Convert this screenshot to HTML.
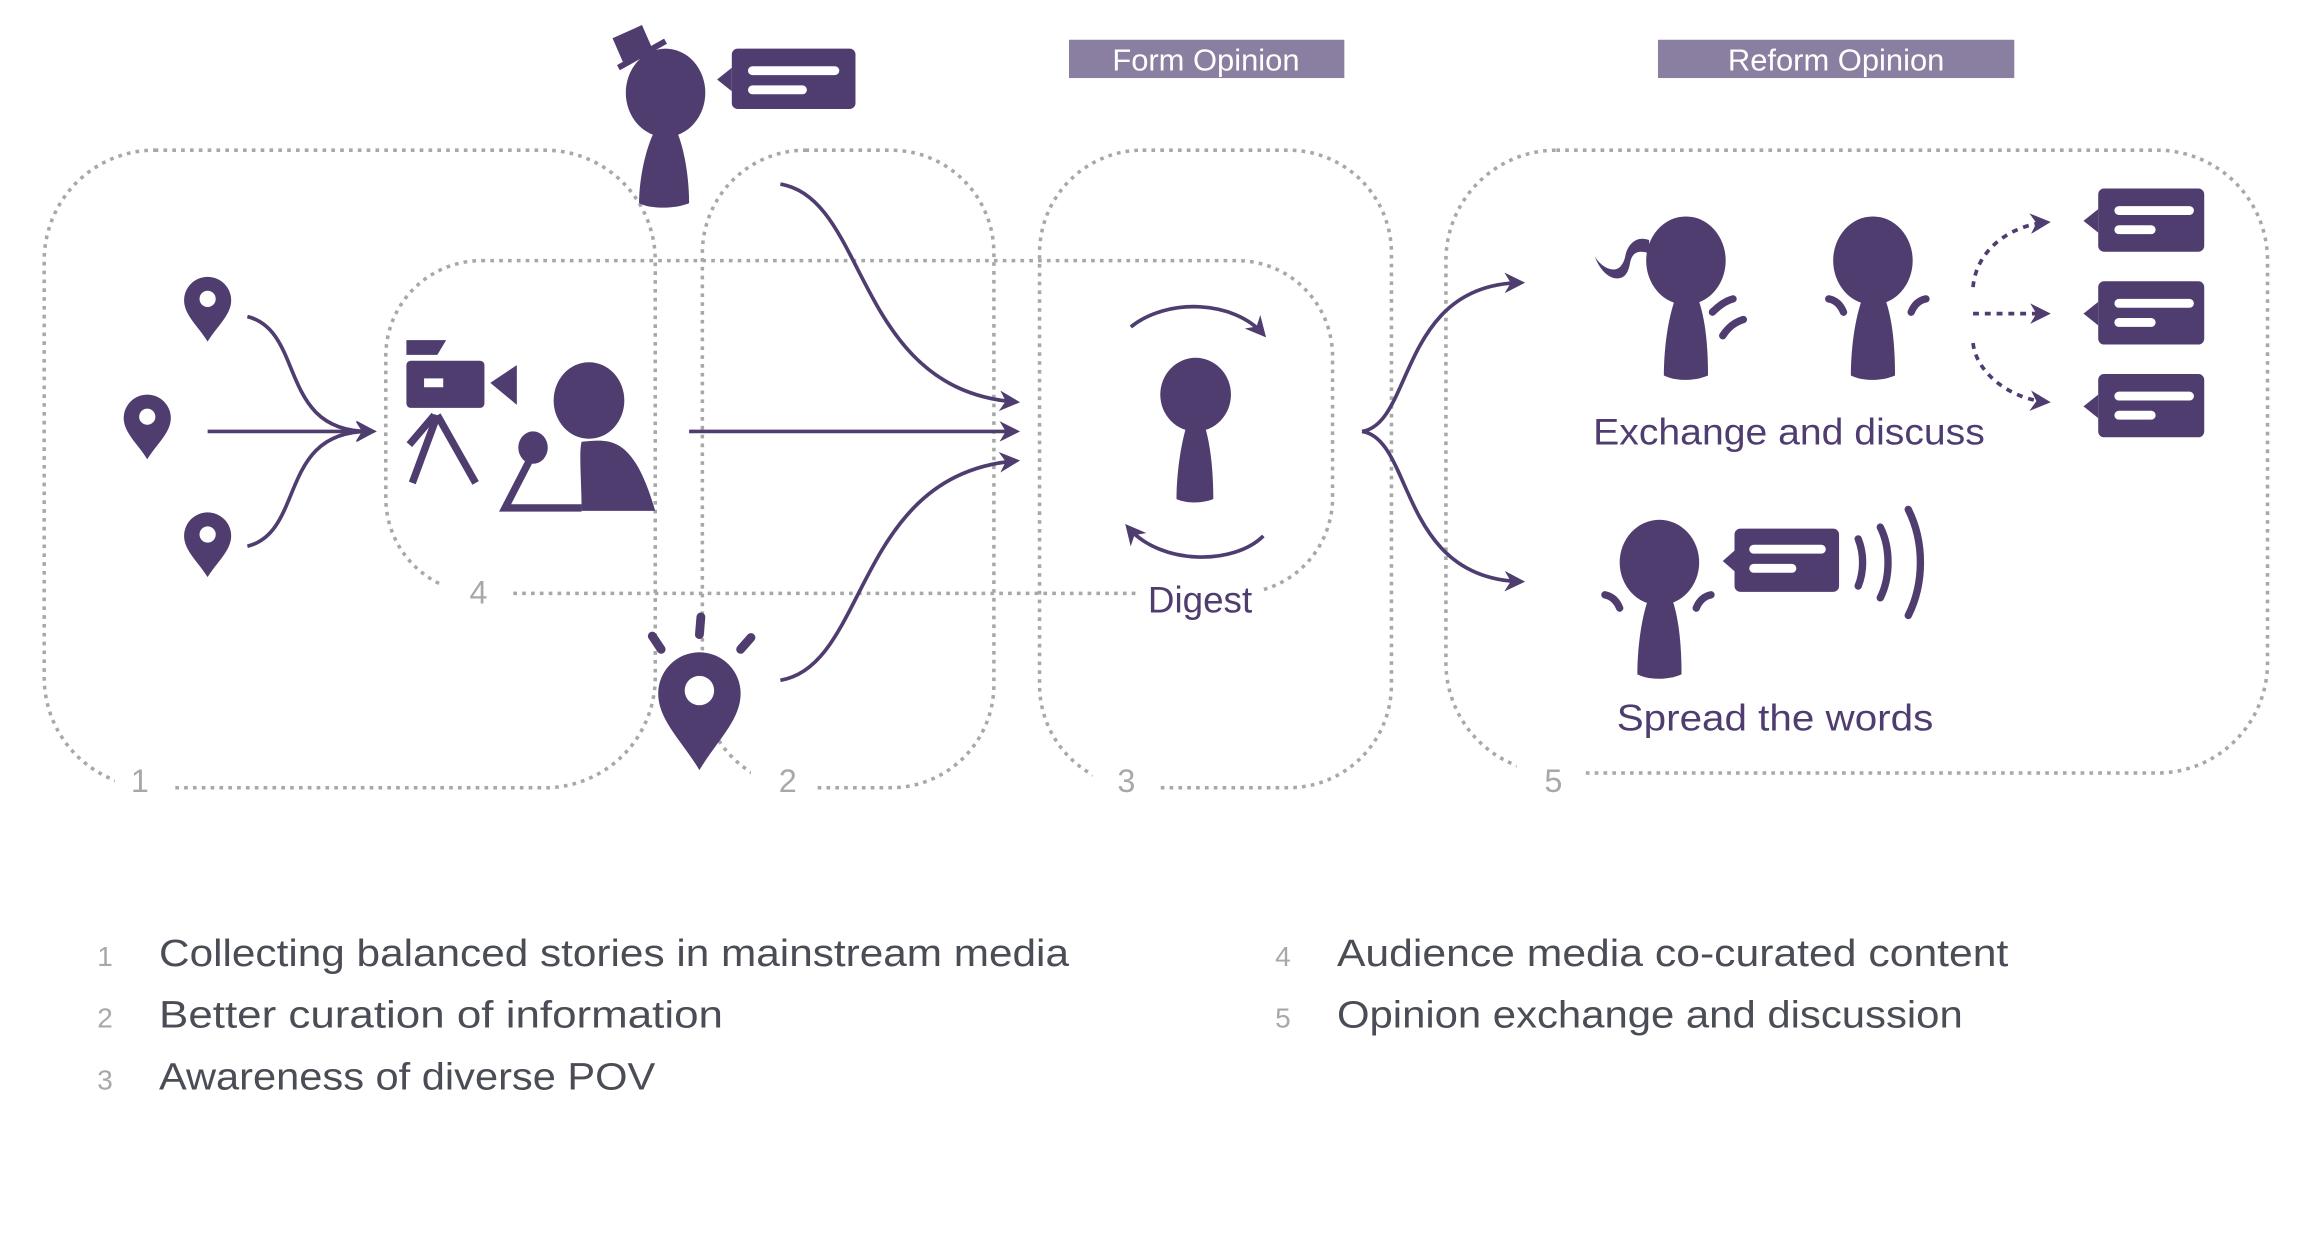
<!DOCTYPE html>
<html><head><meta charset="utf-8"><style>
html,body{margin:0;padding:0;background:#fff;}
svg{display:block;}
</style></head><body>
<svg width="2297" height="1257" viewBox="0 0 1560 853.7" xmlns="http://www.w3.org/2000/svg" font-family="Liberation Sans, sans-serif">
<defs>
<marker id="ah2" viewBox="0 0 10 10" refX="8" refY="5" markerWidth="14" markerHeight="14" orient="auto" markerUnits="userSpaceOnUse"><path d="M0,0 L10,5 L0,10 L3,5z" fill="#4f3d70"/></marker>
</defs>
<g fill="none" stroke="#a8a8a8" stroke-width="2.4" stroke-dasharray="2.5 3.5">
<rect x="30" y="102" width="415" height="433" rx="75"/>
<rect x="477" y="102" width="198" height="433" rx="70"/>
<rect x="706" y="102" width="239" height="433" rx="70"/>
<rect x="262" y="177" width="643" height="226" rx="65"/>
<rect x="982" y="102" width="558" height="423" rx="75"/>
</g>
<g fill="#fff">
<rect x="78" y="515" width="38" height="30"/>
<rect x="510" y="515" width="42" height="30"/>
<rect x="742" y="515" width="44" height="30"/>
<rect x="300" y="388" width="48" height="30"/>
<rect x="1030" y="505" width="46" height="40"/>
<rect x="772" y="395" width="86" height="28"/>
</g>
<g fill="#a8a8a8" font-size="22" text-anchor="middle">
<text x="95" y="538">1</text><text x="535" y="538">2</text><text x="765" y="538">3</text><text x="325" y="410">4</text><text x="1055" y="538">5</text>
</g>
<rect x="726" y="27" width="187" height="26" fill="#8a7fa0"/>
<rect x="1126" y="27" width="242" height="26" fill="#8a7fa0"/>
<g fill="#fff" font-size="21" text-anchor="middle"><text x="819" y="48">Form Opinion</text><text x="1247" y="48">Reform Opinion</text></g>

<g fill="#4f3d70">
<g id="pin"><path d="M141,188 a16,16 0 0 1 16,16 c0,10 -10,18 -16,28 c-6,-10 -16,-18 -16,-28 a16,16 0 0 1 16,-16z"/><circle cx="141" cy="203" r="5.5" fill="#fff"/></g>
<use href="#pin" x="-41" y="80"/>
<use href="#pin" x="0" y="160"/>
<path d="M276,231 h27 l-6,10 h-21z"/>
<rect x="276" y="245" width="53" height="32" rx="3"/>
<rect x="288" y="257" width="13" height="6" fill="#fff"/>
<path d="M333,260 l18,-12 v27z"/>
<path d="M295,282 l-17,20" stroke="#4f3d70" stroke-width="5"/>
<path d="M297,282 l-17,46 M297,282 l26,46" stroke="#4f3d70" stroke-width="5" fill="none"/>
<ellipse cx="400" cy="272" rx="24" ry="26"/>
<path d="M395,300 c20,-2 35,-4 50,47 h-50 c0,-20 -2,-40 0,-47z"/>
<ellipse cx="362" cy="304" rx="10" ry="11"/>
<path d="M360,312 l-17,33 h52" stroke="#4f3d70" stroke-width="5" fill="none"/>
<ellipse cx="452" cy="63" rx="27" ry="30"/>
<path d="M444,90 h16 c6,15 8,35 8,48 c-10,4 -26,4 -34,0 c0,-13 3,-33 10,-48z"/>
<path d="M416,26 l20,-9 l7,16 l-20,9z"/>
<path d="M420,46 l32,-18" stroke="#4f3d70" stroke-width="4"/>
<rect x="497" y="33" width="84" height="41" rx="4"/>
<path d="M497,46 l-10,8 l10,8z"/>
<rect x="508" y="45" width="62" height="6" rx="3" fill="#fff"/>
<rect x="508" y="58" width="40" height="6" rx="3" fill="#fff"/>
<path d="M475,443 a28,28 0 0 1 28,28 c0,18 -16,32 -28,52 c-12,-20 -28,-34 -28,-52 a28,28 0 0 1 28,-28z"/>
<circle cx="475" cy="469" r="10" fill="#fff"/>
<g stroke="#4f3d70" stroke-width="6" stroke-linecap="round"><path d="M476,419 l-1,12"/><path d="M443,432 l6,9"/><path d="M510,433 l-7,8"/></g>
<ellipse cx="812" cy="268" rx="24" ry="25"/>
<path d="M805,292 h14 c4,15 5,33 5,47 c-8,3 -18,3 -25,0 c0,-14 2,-32 6,-47z"/>
<ellipse cx="1145" cy="177" rx="27" ry="30"/>
<path d="M1137,205 h17 c5,15 6,35 6,50 c-9,4 -22,4 -30,0 c0,-15 2,-35 7,-50z"/>
<path d="M1120,163 c-8,-3 -14,2 -16,10 c-1,6 -4,10 -8,10 c-5,0 -10,-4 -13,-9 c3,8 8,14 14,15 c7,1 9,-5 10,-10 c1,-6 4,-10 13,-7z"/>
<ellipse cx="1272" cy="177" rx="27" ry="30"/>
<path d="M1264,205 h17 c5,15 6,35 6,50 c-9,4 -22,4 -30,0 c0,-15 2,-35 7,-50z"/>
<ellipse cx="1127" cy="382" rx="27" ry="29"/>
<path d="M1119,408 h17 c5,15 6,35 6,50 c-9,4 -22,4 -30,0 c0,-15 2,-35 7,-50z"/>
<rect x="1178" y="359" width="71" height="43" rx="4"/>
<path d="M1178,374 l-8,7 l8,7z"/>
<rect x="1188" y="370" width="52" height="6" rx="3" fill="#fff"/>
<rect x="1188" y="383" width="32" height="6" rx="3" fill="#fff"/>
<g id="bub"><rect x="1425" y="128" width="72" height="43" rx="4"/><path d="M1425,142 l-10,8 l10,8z"/><rect x="1436" y="140" width="54" height="6" rx="3" fill="#fff"/><rect x="1436" y="153" width="28" height="6" rx="3" fill="#fff"/></g>
<use href="#bub" y="63"/><use href="#bub" y="126"/>
</g>
<g fill="none" stroke="#4f3d70" stroke-width="5" stroke-linecap="round">
<path d="M1163,212 c5,-5 10,-8 14,-9 M1170,228 c4,-6 8,-9 14,-11"/>
<path d="M1242,203 c5,1 8,4 10,9 M1308,203 c-5,1 -8,4 -10,9"/>
<path d="M1090,404 c5,1 8,4 10,9 M1162,404 c-5,1 -8,4 -10,9"/>
<path d="M1262,366 c4,10 4,22 0,32 M1277,358 c7,14 7,34 0,48 M1296,346 c11,22 11,50 0,72"/>
</g>
<g fill="none" stroke="#4f3d70" stroke-width="2.5">
<path d="M168,215 c40,10 20,80 85,78" marker-end="url(#ah2)"/>
<path d="M141,293 h112" marker-end="url(#ah2)"/>
<path d="M168,371 c40,-10 20,-80 85,-78" marker-end="url(#ah2)"/>
<path d="M530,125 c60,10 50,140 160,148" marker-end="url(#ah2)"/>
<path d="M468,293 h222" marker-end="url(#ah2)"/>
<path d="M530,462 c60,-10 50,-140 160,-149" marker-end="url(#ah2)"/>
<path d="M925,293 c35,-5 25,-100 108,-101" marker-end="url(#ah2)"/>
<path d="M925,293 c35,5 25,100 108,102" marker-end="url(#ah2)"/>
<path d="M768,222 c25,-20 70,-18 90,5" marker-end="url(#ah2)"/>
<path d="M858,364 c-20,20 -70,20 -92,-6" marker-end="url(#ah2)"/>
<g stroke-dasharray="4 4">
<path d="M1340,195 c2,-25 25,-42 50,-44" marker-end="url(#ah2)"/>
<path d="M1340,213 h50" marker-end="url(#ah2)"/>
<path d="M1340,233 c2,20 25,38 50,40" marker-end="url(#ah2)"/>
</g>
</g>
<g fill="#4f3d70" font-size="25">
<text x="815" y="416" text-anchor="middle">Digest</text>
<text x="1082" y="302" textLength="266" lengthAdjust="spacingAndGlyphs">Exchange and discuss</text>
<text x="1098" y="496" textLength="215" lengthAdjust="spacingAndGlyphs">Spread the words</text>
</g>
<g fill="#a8a8a8" font-size="19"><text x="66" y="656">1</text><text x="66" y="698">2</text><text x="66" y="740">3</text><text x="866" y="656">4</text><text x="866" y="698">5</text></g>
<g fill="#4a4d55" font-size="26">
<text x="108" y="656" textLength="618" lengthAdjust="spacingAndGlyphs">Collecting balanced stories in mainstream media</text>
<text x="108" y="698" textLength="383" lengthAdjust="spacingAndGlyphs">Better curation of information</text>
<text x="108" y="740" textLength="337" lengthAdjust="spacingAndGlyphs">Awareness of diverse POV</text>
<text x="908" y="656" textLength="456" lengthAdjust="spacingAndGlyphs">Audience media co-curated content</text>
<text x="908" y="698" textLength="425" lengthAdjust="spacingAndGlyphs">Opinion exchange and discussion</text>
</g>
</svg>
</body></html>
